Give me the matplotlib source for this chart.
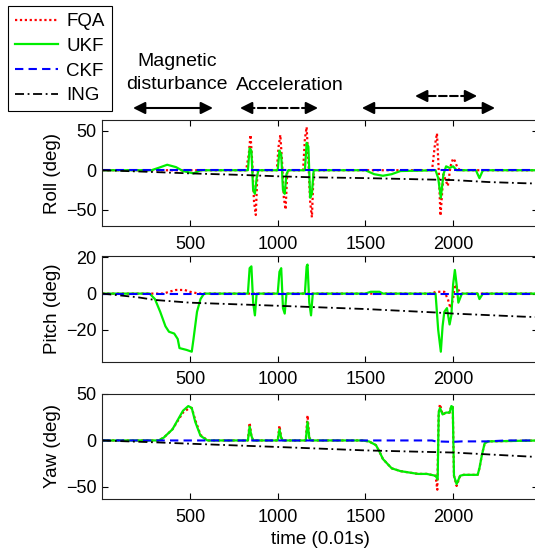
import numpy as np
import matplotlib
matplotlib.use("Agg")
import matplotlib.pyplot as plt

plt.rcParams['font.family'] = ['Liberation Sans', 'DejaVu Sans']

# ---------------- data ----------------
# Roll
roll_fqa_t = [0, 820, 835, 845, 855, 865, 875, 885, 995, 1005, 1015, 1025, 1035, 1045, 1055,
              1145, 1155, 1165, 1175, 1185, 1195, 1205, 1880, 1895, 1908, 1918, 1928, 1945,
              1970, 1985, 2000, 2010, 2025, 2040, 2500]
roll_fqa_v = [0, 0, 20, 45, 10, -40, -57, 0, 0, 30, 45, 10, -35, -50, 0,
              0, 40, 55, 10, -40, -60, 0, 0, 30, 47, 0, -58, -5,
              -20, 5, 15, 12, 3, 0, 0]
roll_ukf_t = [0, 280, 320, 370, 420, 460, 500, 520, 560, 600, 830, 840, 850, 860, 870, 880, 890,
              1000, 1010, 1020, 1030, 1040, 1050, 1060, 1155, 1165, 1175, 1185, 1195, 1205,
              1500, 1550, 1600, 1650, 1700, 1900, 1915, 1930, 1945, 1960, 1980, 2000, 2020,
              2130, 2150, 2170, 2500]
roll_ukf_v = [0, 0, 3, 7, 4, -1, -3, -4, 0, 0, 0, 28, 25, -25, -30, -10, 0,
              0, 25, 20, -25, -30, -5, 0, 0, 35, 30, -35, -30, 0,
              0, -5, -7, -5, -1, 0, -10, -35, -5, 5, 3, 5, 0,
              0, -10, 0, 0]
roll_ckf_t = [0, 2500]
roll_ckf_v = [0, 0]
roll_ing_t = [0, 200, 500, 800, 1000, 1200, 1500, 1800, 2000, 2200, 2400, 2500]
roll_ing_v = [0, -1.5, -4, -6, -7.7, -9, -10, -11.5, -12.5, -15, -16.5, -17]

# Pitch
pitch_fqa_t = [0, 350, 380, 420, 470, 500, 550, 1880, 1900, 1950, 1970, 1985, 2000, 2010, 2030, 2050, 2500]
pitch_fqa_v = [0, 0, 1, 2, 2, 1, 0, 0, 1, 1, -3, -8, -3, 5, 2, 0, 0]
pitch_ukf_t = [0, 270, 300, 330, 360, 380, 410, 430, 440, 480, 510, 520, 540, 560, 580,
               830, 840, 850, 860, 870, 880, 1000, 1010, 1020, 1030, 1040, 1050,
               1155, 1165, 1170, 1180, 1190, 1200, 1500, 1530, 1580, 1600,
               1900, 1915, 1930, 1940, 1950, 1965, 1980, 1990, 2000, 2010, 2020, 2030, 2050,
               2140, 2150, 2170, 2500]
pitch_ukf_v = [0, 0, -3, -10, -18, -21, -22, -25, -30, -31, -32, -25, -10, -3, 0,
               0, 14, 15, -5, -12, 0, 0, 12, 14, -8, -11, 0,
               0, 15, 16, -5, -12, 0, 0, 1, 1, 0,
               0, -20, -32, -18, -10, -8, -17, -12, 5, 13, 5, -5, 0,
               0, -3, 0, 0]
pitch_ckf_t = [0, 2500]
pitch_ckf_v = [-0.4, -0.4]
pitch_ing_t = [0, 200, 300, 500, 1000, 1500, 1900, 2000, 2400, 2500]
pitch_ing_v = [0, -2, -3.5, -5, -6.7, -8.5, -10.4, -11, -12.7, -13]

# Yaw
yaw_fqa_t = [0, 320, 350, 400, 430, 460, 490, 510, 530, 560, 600, 830, 840, 850, 860,
             1000, 1010, 1020, 1030, 1160, 1170, 1180, 1190, 1480, 1520, 1560, 1580, 1600,
             1650, 1700, 1800, 1850, 1900, 1910, 1918, 1925, 1940, 1960, 1980, 1990, 1998,
             2005, 2020, 2040, 2060, 2140, 2150, 2165, 2180, 2200, 2500]
yaw_fqa_v = [0, 0, 3, 12, 21, 30, 34, 35, 22, 6, 0, 0, 19, 5, 0,
             0, 16, 3, 0, 0, 27, 3, 0, 0, -1, -5, -12, -20,
             -30, -33, -36, -36, -38, -53, 30, 39, 28, 30, 30, 37, 36,
             -38, -49, -38, -37, -37, -30, -15, -3, -1, 0]
yaw_ukf_t = [0, 320, 350, 400, 430, 460, 490, 510, 530, 560, 600, 830, 840, 850, 860,
             1000, 1010, 1020, 1030, 1160, 1170, 1180, 1190, 1480, 1520, 1560, 1580, 1600,
             1650, 1700, 1800, 1850, 1900, 1912, 1918, 1925, 1940, 1960, 1980, 1990, 1998,
             2005, 2020, 2040, 2060, 2140, 2150, 2165, 2180, 2200, 2500]
yaw_ukf_v = [0, 0, 3, 12, 22, 32, 37, 35, 20, 5, 0, 0, 15, 5, 0,
             0, 12, 3, 0, 0, 20, 3, 0, 0, -1, -5, -12, -20,
             -30, -33, -36, -36, -38, -42, 30, 35, 28, 30, 30, 37, 36,
             -38, -47, -38, -37, -37, -30, -15, -3, -1, 0]
yaw_ckf_t = [0, 1880, 1900, 2000, 2050, 2200, 2300, 2500]
yaw_ckf_v = [0, 0, -1, -1.5, -1, -1, 0, 0]
yaw_ing_t = [0, 300, 500, 1000, 1500, 2000, 2400, 2500]
yaw_ing_v = [0, -2, -3.5, -7, -10.7, -13, -17, -18]

x_ticks = [500, 1000, 1500, 2000]
labels = ['FQA', 'UKF', 'CKF', 'ING']

# ---------------- figure ----------------
W, H = 535, 548
fig = plt.figure(figsize=(W / 100, H / 100), dpi=100)

left = 102.3 / W
width = 435.7 / W
XMAX = 2484


def ax_rect(top_px, bot_px):
    return [left, 1 - bot_px / H, width, (bot_px - top_px) / H]


ax1 = fig.add_axes(ax_rect(120, 226))
ax2 = fig.add_axes(ax_rect(256, 361.7))
ax3 = fig.add_axes(ax_rect(394, 499))

styles = [dict(color='#ff0000', linestyle=(0, (1, 1.2)), lw=1.6),
          dict(color='#00ee00', linestyle='-', lw=1.6),
          dict(color='#0000ff', linestyle=(0, (4, 2.5)), lw=1.5),
          dict(color='black', linestyle=(0, (5, 2, 1, 2)), lw=1.3)]

panels = [
    (ax1, [(roll_fqa_t, roll_fqa_v), (roll_ukf_t, roll_ukf_v), (roll_ckf_t, roll_ckf_v), (roll_ing_t, roll_ing_v)],
     'Roll (deg)', (-71, 64), [-50, 0, 50]),
    (ax2, [(pitch_fqa_t, pitch_fqa_v), (pitch_ukf_t, pitch_ukf_v), (pitch_ckf_t, pitch_ckf_v), (pitch_ing_t, pitch_ing_v)],
     'Pitch (deg)', (-37.5, 20.7), [-20, 0, 20]),
    (ax3, [(yaw_fqa_t, yaw_fqa_v), (yaw_ukf_t, yaw_ukf_v), (yaw_ckf_t, yaw_ckf_v), (yaw_ing_t, yaw_ing_v)],
     'Yaw (deg)', (-63, 50), [-50, 0, 50]),
]

handles = []
for ax, series, ylab, ylim, yt in panels:
    hs = []
    for (t, v), st, lab in zip(series, styles, labels):
        h, = ax.plot(t, v, label=lab, **st)
        hs.append(h)
    handles = hs
    ax.set_xlim(0, XMAX)
    ax.set_ylim(*ylim)
    ax.set_yticks(yt)
    ax.set_xticks(x_ticks)
    ax.tick_params(axis='both', direction='in', top=True, right=True, labelsize=13,
                   length=4, width=0.8)
    ax.tick_params(axis='x', pad=7)
    ax.tick_params(axis='y', pad=4)
    ax.set_ylabel(ylab, fontsize=13.5, labelpad=4)
    for s in ax.spines.values():
        s.set_linewidth(0.8)
        s.set_color('#222222')

ax3.set_xlabel('time (0.01s)', fontsize=13.5, labelpad=4)

leg = fig.legend(handles=handles, labels=labels, loc='upper left',
                 bbox_to_anchor=(8 / W, 1 - 6 / H), bbox_transform=fig.transFigure,
                 borderaxespad=0, fontsize=13.5, handlelength=2.3, handletextpad=0.43,
                 labelspacing=0.4, borderpad=0.38, fancybox=False, framealpha=1)
leg.get_frame().set_edgecolor('black')
leg.get_frame().set_linewidth(0.8)

# annotations above the top panel
fig.text(177 / W, 1 - 73 / H, 'Magnetic\ndisturbance', ha='center', va='center',
         fontsize=14, linespacing=1.45)
fig.text(290 / W, 1 - 85 / H, 'Acceleration', ha='center', va='center', fontsize=14)

arrows = [(175, 631, 108, '-'), (785, 1230, 108, '--'),
          (1480, 2239, 108, '-'), (1783, 2137, 96, '--')]
for x1, x2, ypx, ls in arrows:
    yf = 1 - ypx / H
    ax1.annotate('', xy=(x1, yf), xytext=(x2, yf), xycoords=('data', 'figure fraction'),
                 textcoords=('data', 'figure fraction'), annotation_clip=False,
                 arrowprops=dict(arrowstyle='-', color='black', lw=1.5, linestyle=ls,
                                 shrinkA=6, shrinkB=6))
    for xa, xb in [(x1, x1 + 60), (x2, x2 - 60)]:
        ax1.annotate('', xy=(xa, yf), xytext=(xb, yf), xycoords=('data', 'figure fraction'),
                     textcoords=('data', 'figure fraction'), annotation_clip=False,
                     arrowprops=dict(arrowstyle='-|>,head_length=0.6,head_width=0.3',
                                     color='black', lw=1.5, shrinkA=0, shrinkB=0,
                                     mutation_scale=12))

fig.savefig('out.png', dpi=100)
